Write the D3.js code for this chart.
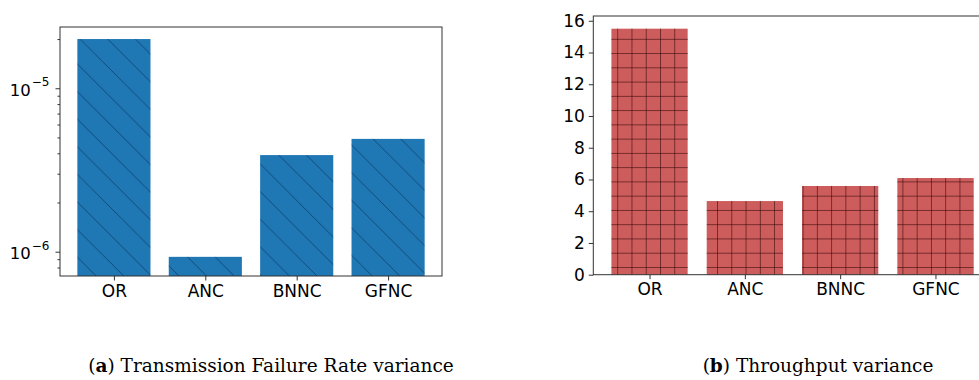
<!DOCTYPE html>
<html>
<head>
<meta charset="utf-8">
<script src="https://cdn.jsdelivr.net/npm/d3@7"></script>
<style>
  html, body { margin: 0; padding: 0; background: #fff; }
  svg { display: block; }
  .tick text { font-family: "DejaVu Sans", sans-serif; }
</style>
</head>
<body>
<svg id="fig" width="979" height="380"></svg>
<script>
// Per-scheme results
const categories = ["OR", "ANC", "BNNC", "GFNC"];
const failureVariance = [2.0e-5, 9.3e-7, 3.9e-6, 4.9e-6];
const throughputVariance = [15.5, 4.64, 5.59, 6.09];

// Axis ticks
const failureMajorTicks = [1e-6, 1e-5];
const failureMinorTicks = [8e-7, 9e-7, 2e-6, 3e-6, 4e-6, 5e-6, 6e-6, 7e-6, 8e-6, 9e-6, 2e-5];
const failureTickExponents = ["\u22126", "\u22125"];
const throughputTicks = [0, 2, 4, 6, 8, 10, 12, 14, 16];

// Sub-figure captions
const captionLetters = ["a", "b"];
const captionTexts = ["Transmission Failure Rate variance", "Throughput variance"];

const svg = d3.select("#fig");
const defs = svg.append("defs");
const tickFont = 17;
const spineColor = "#333";

// Hatch patterns
const diag = defs.append("pattern")
  .attr("id", "hatchDiag")
  .attr("patternUnits", "userSpaceOnUse")
  .attr("x", 13.4).attr("y", 0)
  .attr("width", 27.6).attr("height", 27.6);
diag.append("line")
  .attr("x1", -3).attr("y1", -3).attr("x2", 30.6).attr("y2", 30.6)
  .attr("stroke", "rgba(0,20,50,0.5)").attr("stroke-width", 0.9);

const gs = 14.26;
const grid = defs.append("pattern")
  .attr("id", "hatchGrid")
  .attr("patternUnits", "userSpaceOnUse")
  .attr("x", 617.7 - gs / 2).attr("y", 39.3 - gs / 2)
  .attr("width", gs).attr("height", gs);
grid.append("line")
  .attr("x1", gs / 2).attr("y1", 0).attr("x2", gs / 2).attr("y2", gs)
  .attr("stroke", "rgba(40,0,0,0.55)").attr("stroke-width", 1);
grid.append("line")
  .attr("x1", 0).attr("y1", gs / 2).attr("x2", gs).attr("y2", gs / 2)
  .attr("stroke", "rgba(40,0,0,0.55)").attr("stroke-width", 1);

function styleAxis(g) {
  g.selectAll(".domain").remove();
  g.selectAll(".tick line").attr("stroke", spineColor).attr("stroke-width", 1);
  g.selectAll(".tick text").attr("fill", "#000").attr("font-size", tickFont);
}

// ---------- (a) transmission failure rate, log scale ----------
const A = { left: 60, right: 442, top: 27, bottom: 276 };
const xA = d3.scaleLinear().domain([-0.59, 3.59]).range([A.left, A.right]);
const yA = d3.scaleLog().domain([7.1e-7, 2.37e-5]).range([A.bottom, A.top]);
const gA = svg.append("g");

gA.selectAll("rect.bar")
  .data(failureVariance)
  .join("rect")
  .attr("class", "bar")
  .attr("x", (d, i) => xA(i - 0.4))
  .attr("width", (d, i) => xA(i + 0.4) - xA(i - 0.4))
  .attr("y", d => yA(d))
  .attr("height", d => A.bottom - yA(d))
  .attr("fill", "#1f77b4");
gA.selectAll("rect.hatch")
  .data(failureVariance)
  .join("rect")
  .attr("class", "hatch")
  .attr("x", (d, i) => xA(i - 0.4))
  .attr("width", (d, i) => xA(i + 0.4) - xA(i - 0.4))
  .attr("y", d => yA(d))
  .attr("height", d => A.bottom - yA(d))
  .attr("fill", "url(#hatchDiag)");

// x axis
const xAxA = gA.append("g").attr("transform", `translate(0,${A.bottom})`)
  .call(d3.axisBottom(xA).tickValues(d3.range(categories.length))
    .tickFormat(i => categories[i]).tickSize(4.5).tickPadding(4));
styleAxis(xAxA);

// y axis: major + minor ticks
const yMajA = gA.append("g").attr("transform", `translate(${A.left},0)`)
  .call(d3.axisLeft(yA).tickValues(failureMajorTicks).tickFormat("").tickSize(4.5));
styleAxis(yMajA);
const yMinA = gA.append("g").attr("transform", `translate(${A.left},0)`)
  .call(d3.axisLeft(yA).tickValues(failureMinorTicks).tickFormat("").tickSize(2.5));
styleAxis(yMinA);

// power-of-ten labels
failureMajorTicks.forEach((v, i) => {
  const t = gA.append("text")
    .attr("x", A.left - 10.5)
    .attr("y", yA(v) + 7.5)
    .attr("text-anchor", "end")
    .attr("font-family", "DejaVu Sans, sans-serif")
    .attr("fill", "#000");
  t.append("tspan").attr("font-size", 16.5).text("10");
  t.append("tspan").attr("font-size", 12).attr("dy", -9.5).attr("dx", 1).text(failureTickExponents[i]);
});

// spines
gA.append("rect")
  .attr("x", A.left).attr("y", A.top)
  .attr("width", A.right - A.left).attr("height", A.bottom - A.top)
  .attr("fill", "none").attr("stroke", spineColor).attr("stroke-width", 1);

// ---------- (b) throughput, linear scale ----------
const B = { left: 593.3, right: 991.7, top: 16, bottom: 274.7 };
const xB = d3.scaleLinear().domain([-0.59, 3.59]).range([B.left, B.right]);
const yB = d3.scaleLinear().domain([0, 16.3]).range([B.bottom, B.top]);
const gB = svg.append("g");

gB.selectAll("rect.bar")
  .data(throughputVariance)
  .join("rect")
  .attr("class", "bar")
  .attr("x", (d, i) => xB(i - 0.4))
  .attr("width", (d, i) => xB(i + 0.4) - xB(i - 0.4))
  .attr("y", d => yB(d))
  .attr("height", d => yB(0) - yB(d))
  .attr("fill", "#cd5c5c");
gB.selectAll("rect.hatch")
  .data(throughputVariance)
  .join("rect")
  .attr("class", "hatch")
  .attr("x", (d, i) => xB(i - 0.4))
  .attr("width", (d, i) => xB(i + 0.4) - xB(i - 0.4))
  .attr("y", d => yB(d))
  .attr("height", d => yB(0) - yB(d))
  .attr("fill", "url(#hatchGrid)");

const xAxB = gB.append("g").attr("transform", `translate(0,${B.bottom})`)
  .call(d3.axisBottom(xB).tickValues(d3.range(categories.length))
    .tickFormat(i => categories[i]).tickSize(4.5).tickPadding(4));
styleAxis(xAxB);

const yAxB = gB.append("g").attr("transform", `translate(${B.left},0)`)
  .call(d3.axisLeft(yB).tickValues(throughputTicks).tickFormat(d3.format("d"))
    .tickSize(4.5).tickPadding(4));
styleAxis(yAxB);

gB.append("rect")
  .attr("x", B.left).attr("y", B.top)
  .attr("width", B.right - B.left).attr("height", B.bottom - B.top)
  .attr("fill", "none").attr("stroke", spineColor).attr("stroke-width", 1);

// ---------- captions ----------
const capX = [271, 818];
captionTexts.forEach((txt, i) => {
  const t = svg.append("text")
    .attr("x", capX[i]).attr("y", 372)
    .attr("text-anchor", "middle")
    .attr("font-family", "DejaVu Serif, serif")
    .attr("font-size", 18.5)
    .attr("fill", "#000");
  t.append("tspan").text("(");
  t.append("tspan").attr("font-weight", "bold").text(captionLetters[i]);
  t.append("tspan").text(") " + txt);
});
</script>
</body>
</html>
